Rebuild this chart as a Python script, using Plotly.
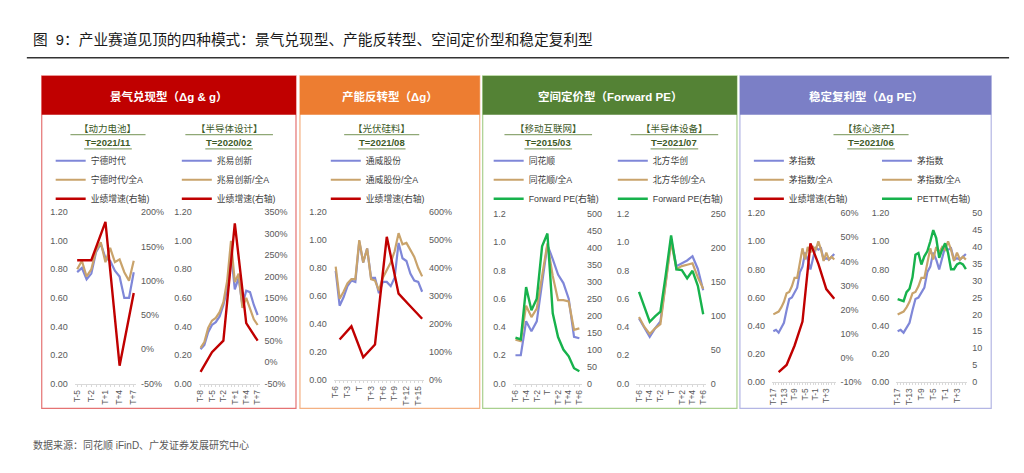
import plotly.graph_objects as go

# ---------------- data ----------------
CATS_A = ["T-5", "T-4", "T-3", "T-2", "T-1", "T", "T+1", "T+2", "T+3", "T+4", "T+5", "T+6", "T+7"]
CATS_B = ["T-8", "T-7", "T-6", "T-5", "T-4", "T-3", "T-2", "T-1", "T",
          "T+1", "T+2", "T+3", "T+4", "T+5", "T+6", "T+7"]
CATS_C = ["T-6", "T-5", "T-4", "T-3", "T-2", "T-1", "T", "T+1", "T+2", "T+3", "T+4", "T+5",
          "T+6", "T+7", "T+8", "T+9", "T+10", "T+11", "T+12", "T+13", "T+14", "T+15", "T+16"]
CATS_D = ["T-6", "T-5", "T-4", "T-3", "T-2", "T-1", "T", "T+1", "T+2", "T+3", "T+4", "T+5", "T+6"]
CATS_E = ["T-17", "T-16", "T-15", "T-14", "T-13", "T-12", "T-11", "T-10", "T-9", "T-8", "T-7", "T-6",
          "T-5", "T-4", "T-3", "T-2", "T-1", "T", "T+1", "T+2", "T+3", "T+4", "T+5", "T+6"]

# 动力电池 宁德时代
CATL = [0.78, 0.81, 0.73, 0.77, 0.92, 0.98, 0.88, 0.86, 0.79, 0.75, 0.60, 0.60, 0.78]
CATL_REL = [0.80, 0.86, 0.75, 0.80, 0.93, 0.99, 0.85, 0.95, 0.85, 0.87, 0.78, 0.72, 0.86]
CATL_GROWTH = [130, None, None, 130, None, None, 186, None, None, -24, None, None, 82]

# 半导体设计 兆易创新
GIGA = [0.24, 0.27, 0.36, 0.41, 0.43, 0.47, 0.55, 0.66, 0.92, 0.66, 0.74, 0.55, 0.65, 0.64, 0.55, 0.48]
GIGA_REL = [0.25, 0.29, 0.39, 0.44, 0.46, 0.50, 0.57, 0.72, 1.00, 0.71, 0.77, 0.53, 0.60, 0.53, 0.45, 0.41]
GIGA_GROWTH = [-23, None, None, 23, None, None, 50, None, None, 324, None, None, 91, None, None, 50]

# 光伏硅料 通威股份
TW = [0.78, 0.53, 0.59, 0.67, 0.71, 0.70, 0.99, 0.84, 0.94, 0.73, 0.73, 0.62, 0.70,
      0.70, 0.67, 0.73, 0.98, 0.87, 0.85, 0.76, 0.71, 0.70, 0.63]
TW_REL = [0.81, 0.58, 0.63, 0.69, 0.72, 0.72, 1.00, 0.84, 0.94, 0.72, 0.71, 0.64, 0.73,
          0.79, 0.84, 0.92, 1.05, 0.97, 0.98, 0.93, 0.88, 0.80, 0.74]
TW_GROWTH = [None, 144, None, None, 191, None, None, 80, None, None, 126, None, None,
             512, None, None, 308, None, None, 263, None, None, 218]

# 移动互联网 同花顺
THS = [0.20, 0.20, 0.44, 0.37, 0.44, 0.70, 0.98, 0.88, 0.77, 0.71, 0.60, 0.33, 0.32]
THS_REL = [0.31, 0.30, 0.55, 0.47, 0.53, 0.76, 0.99, 0.76, 0.59, 0.59, 0.58, 0.38, 0.39]
THS_PE = [135, 130, 284, 216, 250, 404, 442, 207, 137, 100, 80, 45, 36]

# 半导体设备 北方华创
NAURA = [0.46, 0.39, 0.33, 0.39, 0.44, 0.72, 1.02, 0.83, 0.85, 0.87, 0.90, 0.81, 0.66]
NAURA_REL = [0.47, 0.40, 0.35, 0.39, 0.42, 0.72, 1.00, 0.81, 0.83, 0.84, 0.85, 0.75, 0.67]
NAURA_PE = [135, 113, 91, 99, 106, 160, 218, 168, 167, 155, 166, 144, 102]

# 核心资产 茅指数
MAO = [0.36, 0.37, 0.35, 0.39, 0.42, 0.51, 0.59, 0.60, 0.64, 0.67, 0.78, 0.82,
       0.92, 0.87, 0.80, 0.89, 0.96, 0.94, 0.95, 0.87, 0.88, 0.87, 0.89, 0.91]
MAO_REL = [0.48, 0.49, 0.50, 0.53, 0.57, 0.63, 0.64, 0.68, 0.74, 0.74, 0.85, 0.95,
           0.87, 0.96, 0.92, 0.96, 0.94, 1.00, 0.94, 0.86, 0.92, 0.87, 0.89, 0.87]
MAO_GROWTH = [None, None, -6, None, None, -3, None, None, 5, None, None, 15,
              None, None, 47.5, None, None, 39, None, None, 28.5, None, None, 24.5]
MAO_PETTM = [24.5, 24.2, 23.9, 26.6, 27.6, 31.0, 37.7, 38.2, 34.8, 37.2, 38.7, 41.6,
             45.0, 42.6, 36.8, 39.2, 41.1, 38.2, 33.4, 33.4, 34.8, 35.3, 34.8, 33.4]

# ---------------- style ----------------
W, H = 1024, 473
FONT = "Liberation Sans, Arial, Noto Sans CJK SC, sans-serif"
BLUE = "#7F87D8"
GOLD = "#C9A36B"
RED = "#C00000"
GREEN = "#17B24C"
LABEL_GREEN = "#3D5A27"
TICK_GREY = "#595959"


def fx(x):
    return x / W


def fy(y):
    return 1 - y / H


# each small chart: data + where it sits (pixel boxes)
charts = [
    dict(cats=CATS_A, step=3,
         left=[("宁德时代", CATL, BLUE), ("宁德时代/全A", CATL_REL, GOLD)],
         right=("业绩增速(右轴)", CATL_GROWTH, RED),
         rng=(-50, 200, 50), pct=True, fmt=".2f",
         box=(71.3, 133, 211.7, 386.7), leg=65),
    dict(cats=CATS_B, step=3,
         left=[("兆易创新", GIGA, BLUE), ("兆易创新/全A", GIGA_REL, GOLD)],
         right=("业绩增速(右轴)", GIGA_GROWTH, RED),
         rng=(-50, 350, 50), pct=True, fmt=".2f",
         box=(196, 257.3, 211.7, 386.7), leg=192),
    dict(cats=CATS_C, step=3,
         left=[("通威股份", TW, BLUE), ("通威股份/全A", TW_REL, GOLD)],
         right=("业绩增速(右轴)", TW_GROWTH, RED),
         rng=(0, 600, 100), pct=True, fmt=".2f",
         box=(332, 423, 211.7, 382.7), leg=342),
    dict(cats=CATS_D, step=2,
         left=[("同花顺", THS, BLUE), ("同花顺/全A", THS_REL, GOLD)],
         right=("Forward PE(右轴)", THS_PE, GREEN),
         rng=(0, 500, 50), pct=False, fmt=".1f",
         box=(512.3, 582, 213.3, 386.7), leg=506),
    dict(cats=CATS_D, step=2,
         left=[("北方华创", NAURA, BLUE), ("北方华创/全A", NAURA_REL, GOLD)],
         right=("Forward PE(右轴)", NAURA_PE, GREEN),
         rng=(0, 250, 50), pct=False, fmt=".1f",
         box=(636.7, 706.7, 213.3, 386.7), leg=631),
    dict(cats=CATS_E, step=4,
         left=[("茅指数", MAO, BLUE), ("茅指数/全A", MAO_REL, GOLD)],
         right=("业绩增速(右轴)", MAO_GROWTH, RED),
         rng=(-10, 60, 10), pct=True, fmt=".2f",
         box=(773.3, 837.3, 212.7, 385), leg=768),
    dict(cats=CATS_E, step=4,
         left=[("茅指数", MAO, BLUE), ("茅指数/全A", MAO_REL, GOLD)],
         right=("PETTM(右轴)", MAO_PETTM, GREEN),
         rng=(0, 50, 5), pct=False, fmt=".2f",
         box=(898.3, 970, 212.7, 385), leg=897),
]

fig = go.Figure()
layout = {}
n_ch = len(charts)

for i, c in enumerate(charts, start=1):
    xa = "x" if i == 1 else f"x{i}"
    ya = "y" if i == 1 else f"y{i}"
    yr = f"y{i + n_ch}"
    lg = "legend" if i == 1 else f"legend{i}"
    for name, vals, color in c["left"]:
        fig.add_trace(go.Scatter(x=c["cats"], y=vals, name=name, mode="lines",
                                 line=dict(color=color, width=2.2),
                                 xaxis=xa, yaxis=ya, legend=lg))
    name, vals, color = c["right"]
    fig.add_trace(go.Scatter(x=c["cats"], y=vals, name=name, mode="lines",
                             line=dict(color=color, width=2.4), connectgaps=True,
                             xaxis=xa, yaxis=yr, legend=lg))

    x0, x1, y0, y1 = c["box"]
    n = len(c["cats"])
    layout["xaxis" if i == 1 else f"xaxis{i}"] = dict(
        domain=[fx(x0), fx(x1)], anchor=ya, type="category",
        range=[-0.5, n - 0.5], showgrid=False, zeroline=False,
        showline=True, linecolor="#D9D9D9", linewidth=1,
        ticks="outside", ticklen=2, tickcolor="#D9D9D9",
        tickmode="array", tickvals=c["cats"],
        ticktext=[t if k % c["step"] == 0 else "" for k, t in enumerate(c["cats"])],
        tickangle=-90, tickfont=dict(size=8.5, color=TICK_GREY))
    layout["yaxis" if i == 1 else f"yaxis{i}"] = dict(
        domain=[fy(y1), fy(y0)], anchor=xa, range=[0, 1.2],
        tick0=0, dtick=0.2, tickformat=c["fmt"], showgrid=False,
        zeroline=False, showline=False, ticks="", ticklabelstandoff=6,
        tickfont=dict(size=9, color=TICK_GREY))
    lo, hi, st = c["rng"]
    tv = list(range(lo, hi + 1, st))
    layout[f"yaxis{i + n_ch}"] = dict(
        overlaying=ya, side="right", anchor=xa, range=[lo, hi],
        tickmode="array", tickvals=tv,
        ticktext=[f"{v}%" if c["pct"] else f"{v}" for v in tv],
        showgrid=False, zeroline=False, showline=False, ticks="",
        ticklabelstandoff=4, tickfont=dict(size=9, color=TICK_GREY))
    # legend key line sits a little left of the reference, text lines up
    layout[lg] = dict(x=fx(c["leg"] - 18), y=fy(178.5), xanchor="left", yanchor="middle",
                      bgcolor="rgba(0,0,0,0)", itemwidth=30, tracegroupgap=0,
                      font=dict(size=8.8, color="#404040", family=FONT))

# panels: (x0, x1, header colour, border colour, header text)
panels = [
    (38, 294, "#C00000", "#E57373", "景气兑现型（Δg &amp; g）"),
    (298, 479, "#ED7D31", "#F4B183", "产能反转型（Δg）"),
    (482, 738, "#548235", "#A9D08E", "空间定价型（Forward PE）"),
    (741, 994, "#7B7FC6", "#B4B6E4", "稳定复利型（Δg PE）"),
]
# sub-chart captions: (centre x, industry, date)
captions = [
    (104.7, "【动力电池】", "T=2021/11"),
    (226.7, "【半导体设计】", "T=2020/02"),
    (380.3, "【光伏硅料】", "T=2021/08"),
    (548, "【移动互联网】", "T=2015/03"),
    (675, "【半导体设备】", "T=2021/07"),
    (873, "【核心资产】", "T=2021/06"),
]

shapes = [dict(type="line", xref="paper", yref="paper", x0=fx(23), x1=fx(1012),
               y0=fy(54), y1=fy(54), line=dict(color="#333333", width=1.5))]
annotations = [
    dict(text="图\u00a0 9：产业赛道见顶的四种模式：景气兑现型、产能反转型、空间定价型和稳定复利型",
         x=fx(27), y=fy(35), xanchor="left", yanchor="middle",
         font=dict(size=14.7, color="#1A1A1A")),
    dict(text="数据来源：同花顺 iFinD、广发证券发展研究中心",
         x=fx(27), y=fy(449), xanchor="left", yanchor="middle",
         font=dict(size=10, color=TICK_GREY)),
]

for x0, x1, col, border, title in panels:
    shapes.append(dict(type="rect", xref="paper", yref="paper", x0=fx(x0), x1=fx(x1),
                       y0=fy(412), y1=fy(72.5), line=dict(color=border, width=1.2)))
    shapes.append(dict(type="rect", xref="paper", yref="paper", x0=fx(x0), x1=fx(x1),
                       y0=fy(112), y1=fy(72.5), fillcolor=col, line=dict(width=0)))
    annotations.append(dict(text=f"<b>{title}</b>", x=fx((x0 + x1) / 2), y=fy(93.5),
                            xanchor="center", yanchor="middle",
                            font=dict(size=11.5, color="white")))

for cx, name, date in captions:
    half = 6.3 * len(name)
    annotations.append(dict(text=name, x=fx(cx), y=fy(126), xanchor="center", yanchor="middle",
                            font=dict(size=9.5, color=LABEL_GREEN)))
    annotations.append(dict(text=f"<b>{date}</b>", x=fx(cx), y=fy(140.5), xanchor="center",
                            yanchor="middle", font=dict(size=9.5, color=LABEL_GREEN)))
    shapes.append(dict(type="line", xref="paper", yref="paper", x0=fx(cx - half), x1=fx(cx + half),
                       y0=fy(132.5), y1=fy(132.5), line=dict(color="#8FA876", width=1.3)))
    shapes.append(dict(type="line", xref="paper", yref="paper", x0=fx(cx - 24), x1=fx(cx + 24),
                       y0=fy(147), y1=fy(147), line=dict(color="#8FA876", width=1.3)))

for a in annotations:
    a.update(xref="paper", yref="paper", showarrow=False)

fig.update_layout(
    width=W, height=H, margin=dict(l=0, r=0, t=0, b=0),
    paper_bgcolor="white", plot_bgcolor="rgba(0,0,0,0)",
    font=dict(family=FONT, color=TICK_GREY),
    showlegend=True, shapes=shapes, annotations=annotations,
    **layout,
)

# page body has a default 8px margin; drop it so the figure fills the window
fig.write_html("out.html", config={"displayModeBar": False},
               post_script="document.body.style.margin='0';")
